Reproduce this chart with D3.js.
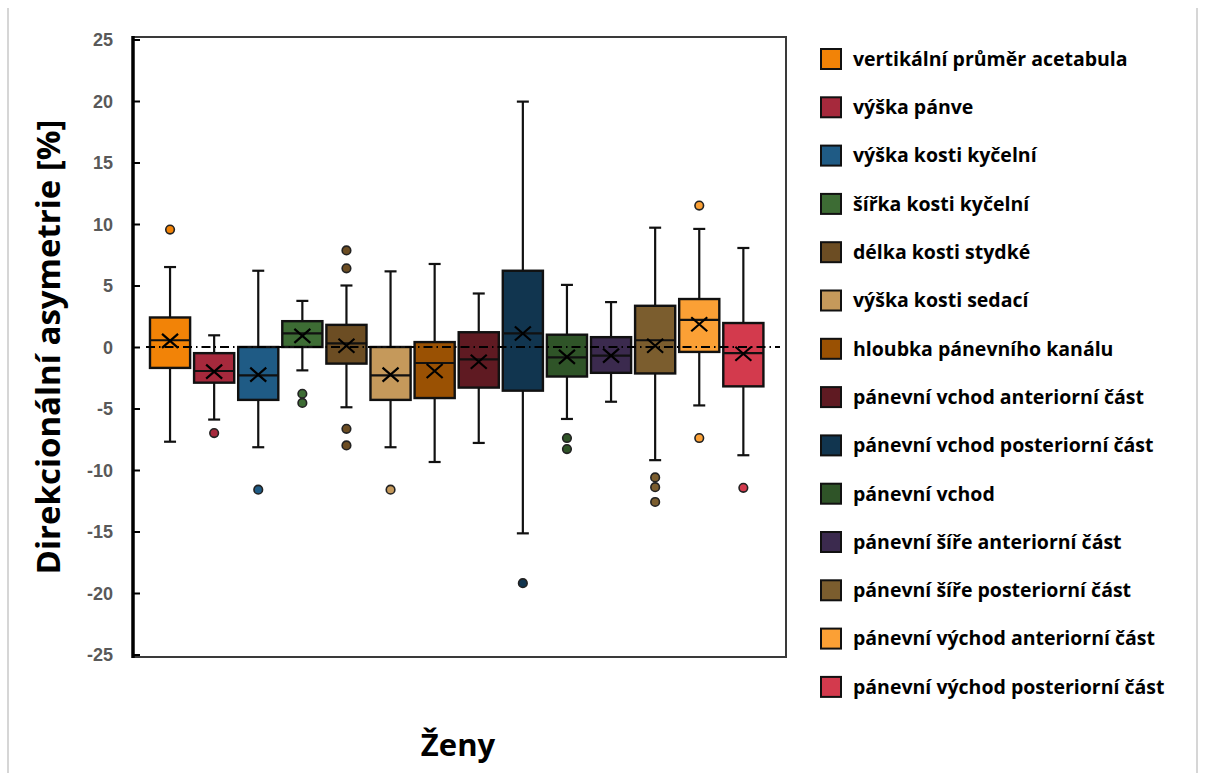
<!DOCTYPE html>
<html lang="cs">
<head>
<meta charset="utf-8">
<title>Direkcionální asymetrie – Ženy</title>
<script src="https://cdn.jsdelivr.net/npm/d3@7"></script>
<style>
  body { margin: 0; background: #fff; }
  svg { display: block; font-family: "Open Sans", Lato, sans-serif; }
</style>
</head>
<body>
<svg id="chart" width="1217" height="773"></svg>
<script>
// categories (legend order = box order)
var categories = [
  "vertikální průměr acetabula",
  "výška pánve",
  "výška kosti kyčelní",
  "šířka kosti kyčelní",
  "délka kosti stydké",
  "výška kosti sedací",
  "hloubka pánevního kanálu",
  "pánevní vchod anteriorní část",
  "pánevní vchod posteriorní část",
  "pánevní vchod",
  "pánevní šíře anteriorní část",
  "pánevní šíře posteriorní část",
  "pánevní východ anteriorní část",
  "pánevní východ posteriorní část"
];
var colors = ["#f28307", "#a6293c", "#1f5b85", "#3d6c34", "#6c4d23", "#c5995b", "#9a5103",
              "#5f1a22", "#11354f", "#2f5428", "#3b2a4e", "#7b5d2e", "#fba035", "#d33a4d"];

// box statistics
var whiskerLow  = [-7.7, -5.9, -8.15, -1.9, -4.9, -8.15, -9.35, -7.8, -15.15, -5.85, -4.45, -9.2, -4.75, -8.8];
var q1          = [-1.7, -2.9, -4.3, 0.0, -1.35, -4.3, -4.15, -3.3, -3.55, -2.4, -2.1, -2.15, -0.4, -3.2];
var medians     = [0.55, -1.95, -2.3, 1.1, 0.3, -2.3, -1.3, -1.0, 1.1, -0.85, -0.7, 0.55, 2.2, -0.5];
var q3          = [2.4, -0.5, 0.0, 2.1, 1.8, 0.0, 0.4, 1.2, 6.2, 1.0, 0.8, 3.35, 3.9, 1.95];
var whiskerHigh = [6.5, 0.95, 6.2, 3.75, 5.0, 6.15, 6.75, 4.35, 19.95, 5.05, 3.65, 9.7, 9.6, 8.05];
var means       = [0.5, -2.0, -2.25, 0.9, 0.1, -2.25, -1.95, -1.2, 1.1, -0.8, -0.7, 0.1, 1.85, -0.55];
var outliers    = [[9.55], [-7.0], [-11.6], [-3.8, -4.55], [7.85, 6.4, -6.65, -8.0], [-11.6], [], [],
                   [-19.2], [-7.4, -8.3], [], [-10.6, -11.4, -12.6], [11.5, -7.4], [-11.45]];
var yTicks = [25, 20, 15, 10, 5, 0, -5, -10, -15, -20, -25];

var svg = d3.select("#chart");

// plot area edges
var plotL = 133, plotR = 786, plotT = 37, plotB = 657;

var y = d3.scaleLinear().domain([-25, 25]).range([654.5, 39.5]);
var x = d3.scaleBand().domain(categories).range([148, 765.4]).paddingInner(0.09).paddingOuter(0.045);

// page border lines
svg.append("line").attr("x1", 8).attr("x2", 8).attr("y1", 8).attr("y2", 773).attr("stroke", "#c8c8c8").attr("stroke-width", 1.5);
svg.append("line").attr("x1", 1197).attr("x2", 1197).attr("y1", 8).attr("y2", 773).attr("stroke", "#c8c8c8").attr("stroke-width", 1.5);

// plot frame
svg.append("rect").attr("x", plotL).attr("y", plotT).attr("width", plotR - plotL).attr("height", plotB - plotT)
  .attr("fill", "none").attr("stroke", "#3a3a3a").attr("stroke-width", 2);

// y axis
var yAxis = d3.axisRight(y).tickValues(yTicks).tickSize(7).tickFormat(function(d) { return String(d); });
var gy = svg.append("g").attr("transform", "translate(" + plotL + ",0)").call(yAxis);
gy.select(".domain").remove();
gy.selectAll(".tick line").attr("stroke", "#000").attr("stroke-width", 2);
gy.selectAll(".tick text").attr("x", -20).attr("text-anchor", "end")
  .attr("fill", "#595959").style("font-size", "18px").style("font-weight", "bold").attr("dy", "0.35em");
svg.append("line").attr("x1", plotL).attr("x2", plotL).attr("y1", plotT - 1).attr("y2", plotB + 1)
  .attr("stroke", "#000").attr("stroke-width", 3.5);

// boxes
var bw = x.bandwidth();
var g = svg.append("g").selectAll("g").data(categories).join("g")
  .attr("transform", function(d) { return "translate(" + (x(d) + bw / 2) + ",0)"; });

g.append("line").attr("y1", function(d, i) { return y(whiskerHigh[i]); }).attr("y2", function(d, i) { return y(q3[i]); })
  .attr("stroke", "#111").attr("stroke-width", 2.2);
g.append("line").attr("y1", function(d, i) { return y(whiskerLow[i]); }).attr("y2", function(d, i) { return y(q1[i]); })
  .attr("stroke", "#111").attr("stroke-width", 2.2);
g.append("line").attr("x1", -6).attr("x2", 6)
  .attr("y1", function(d, i) { return y(whiskerHigh[i]); }).attr("y2", function(d, i) { return y(whiskerHigh[i]); })
  .attr("stroke", "#111").attr("stroke-width", 2.2);
g.append("line").attr("x1", -6).attr("x2", 6)
  .attr("y1", function(d, i) { return y(whiskerLow[i]); }).attr("y2", function(d, i) { return y(whiskerLow[i]); })
  .attr("stroke", "#111").attr("stroke-width", 2.2);

g.append("rect").attr("x", -bw / 2).attr("width", bw)
  .attr("y", function(d, i) { return y(q3[i]); })
  .attr("height", function(d, i) { return Math.max(1, y(q1[i]) - y(q3[i])); })
  .attr("fill", function(d, i) { return colors[i]; })
  .attr("stroke", "#111").attr("stroke-width", 2.4);

g.append("line").attr("x1", -bw / 2).attr("x2", bw / 2)
  .attr("y1", function(d, i) { return y(medians[i]); }).attr("y2", function(d, i) { return y(medians[i]); })
  .attr("stroke", "#111").attr("stroke-width", 2.2);

g.selectAll("circle").data(function(d, i) { return outliers[i].map(function(v) { return { v: v, i: i }; }); })
  .join("circle").attr("r", 4.3).attr("cy", function(o) { return y(o.v); })
  .attr("fill", function(o) { return colors[o.i]; }).attr("stroke", "#222").attr("stroke-width", 1.6);

// zero reference line (drawn over the boxes)
svg.append("line").attr("x1", 146).attr("x2", 780).attr("y1", y(0)).attr("y2", y(0))
  .attr("stroke", "#000").attr("stroke-width", 2).attr("stroke-dasharray", "9,4,1.5,4");

// mean markers
g.append("path")
  .attr("d", function(d, i) {
    var c = y(means[i]);
    return "M-8," + (c - 7) + "L8," + (c + 7) + "M8," + (c - 7) + "L-8," + (c + 7);
  })
  .attr("stroke", "#000").attr("stroke-width", 2.2).attr("fill", "none");

// axis titles
svg.append("text").attr("transform", "translate(48,347) rotate(-90)").attr("text-anchor", "middle")
  .attr("dy", "0.35em").style("font-size", "33px").style("font-weight", "bold").attr("fill", "#000")
  .text("Direkcionální asymetrie [%]");
svg.append("text").attr("x", 458).attr("y", 745).attr("text-anchor", "middle").attr("dy", "0.35em")
  .style("font-size", "31px").style("font-weight", "bold").attr("fill", "#000").text("Ženy");

// legend
var leg = svg.append("g").selectAll("g").data(categories).join("g")
  .attr("transform", function(d, i) { return "translate(821," + (59 + i * 48.3) + ")"; });
leg.append("rect").attr("x", 0).attr("y", -10).attr("width", 20).attr("height", 20)
  .attr("fill", function(d, i) { return colors[i]; }).attr("stroke", "#111").attr("stroke-width", 2);
leg.append("text").attr("x", 32).attr("dy", "0.35em").style("font-size", "19.5px").style("font-weight", "bold")
  .attr("fill", "#000").text(function(d) { return d; });
</script>
</body>
</html>
